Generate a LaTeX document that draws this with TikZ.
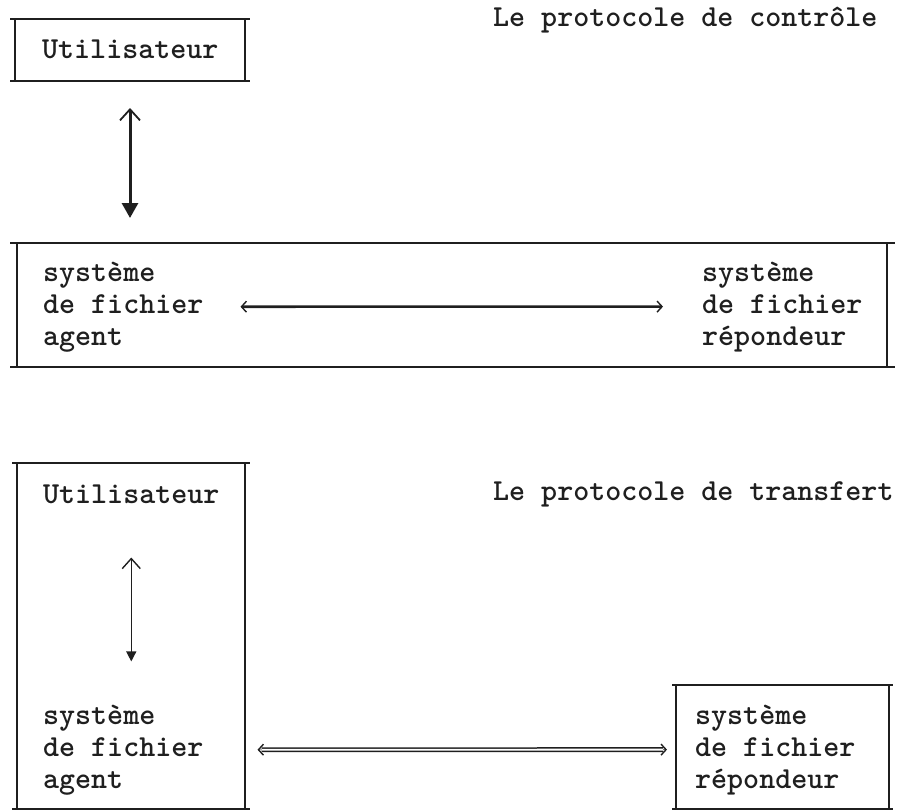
\documentclass[tikz,border=0pt]{standalone}
\usepackage{fontspec}
\usetikzlibrary{arrows.meta}
\definecolor{ink}{gray}{0.12}
\tikzset{chev/.tip={Straight Barb[length=5pt, width=11pt, line width=1.4pt]}}
\newcommand\twfont{\ttfamily\bfseries\fontsize{30.5}{32}\selectfont}
\newcommand\typedbox[3]{% #1 node, #2 left overhang, #3 right overhang
  \draw[hl] ([xshift=-#2pt]#1.north west) -- ([xshift=#3pt]#1.north east);
  \draw[hl] ([xshift=-#2pt]#1.south west) -- ([xshift=#3pt]#1.south east);
  \draw[vl] (#1.north west) -- (#1.south west);
  \draw[vl] (#1.north east) -- (#1.south east);
}
\begin{document}
\begin{tikzpicture}[x=1pt,y=-1pt,
  txt/.style={font=\twfont, inner sep=0pt, align=left, text=ink, anchor=base west},
  area/.style={draw=none, inner sep=0pt, outer sep=0pt},
  hl/.style={draw=ink, line width=2.8pt},
  vl/.style={draw=ink, line width=1.6pt},
]
\useasboundingbox (0,0) rectangle (898,811);

% box areas
\node[area, minimum width=230pt, minimum height=62pt] (u1) at (130,50) {};
\node[area, minimum width=870pt, minimum height=124pt] (mid) at (452,305) {};
\node[area, minimum width=228pt, minimum height=346pt] (bl) at (131,636) {};
\node[area, minimum width=213pt, minimum height=124pt] (br) at (782.5,747) {};
\typedbox{u1}{5}{5}
\typedbox{mid}{7}{8}
\typedbox{bl}{5}{5}
\typedbox{br}{4}{4}

% texts (multi-line blocks are anchored at the baseline of their last line)
\node[txt] (ut1) at (42,58) {Utilisateur};
\node[txt] (t1) at (493,27) {Le protocole de contrôle};
\node[txt] (ag1) at (43,345) {système\\de fichier\\agent};
\node[txt] (re1) at (702,345) {système\\de fichier\\répondeur};
\node[txt] (t2) at (493,500) {Le protocole de transfert};
\node[txt] (ut2) at (43,503) {Utilisateur};
\node[txt] (ag2) at (43,788) {système\\de fichier\\agent};
\node[txt] (re2) at (695,788) {système\\de fichier\\répondeur};

% connectors
\draw[draw=ink, line width=3pt,
  {Straight Barb[length=11pt, width=20pt, line width=1.8pt]}-{Triangle[length=15pt, width=16pt]},
  shorten <=27pt, shorten >=25pt] (u1.south) -- (u1.south |- mid.north);

\draw[draw=ink, line width=2.6pt, chev-chev,
  shorten <=37pt, shorten >=39pt] (ag1.east) -- (re1.west);

\draw[draw=ink, line width=1.4pt,
  {Straight Barb[length=10pt, width=18pt, line width=1.4pt]}-{Triangle[length=10pt, width=10pt]},
  shorten <=54pt, shorten >=43pt] (ut2.south) -- (ut2.south |- ag2.north);

\draw[draw=ink, line width=0.4pt, chev-chev,
  shorten <=54pt, shorten >=28pt] (ag2.east) -- (re2.west);
\draw[draw=ink, line width=1.5pt, double, double distance=1.8pt,
  shorten <=58pt, shorten >=32pt] (ag2.east) -- (re2.west);
\end{tikzpicture}
\end{document}
